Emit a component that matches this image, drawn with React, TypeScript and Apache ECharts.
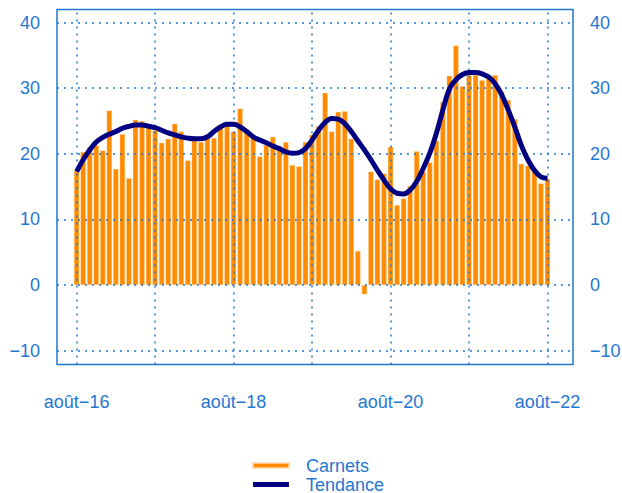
import React, { useEffect, useRef } from 'react';
import * as echarts from 'echarts';

// month index 0 = août-16 ... 72 = août-22
const xTickIndex = [0, 24, 48, 72];
const xTickLabels = ['août\u221216', 'août\u221218', 'août\u221220', 'août\u221222'];
const yearLines = [0, 12, 24, 36, 48, 60, 72];
const yTicks = [-10, 0, 10, 20, 30, 40];

const carnets = [
  17.4, 20.3, 21.0, 21.3, 20.5, 26.6, 17.7, 23.0, 16.3, 25.2, 25.0, 24.0,
  23.6, 21.7, 22.3, 24.6, 23.4, 19.0, 22.7, 21.8, 22.4, 22.4, 24.2, 24.8,
  23.4, 26.9, 23.2, 22.5, 19.6, 21.3, 22.6, 21.1, 21.8, 18.3, 18.1, 21.8,
  22.9, 24.2, 29.3, 23.4, 26.4, 26.5, 22.3, 5.2, -1.4, 17.3, 16.1, 17.0,
  21.1, 12.2, 13.2, 15.1, 20.4, 17.3, 18.7, 22.0, 27.9, 31.9, 36.5, 30.3,
  32.0, 32.0, 31.2, 31.5, 32.0, 29.5, 28.2, 25.3, 18.5, 18.2, 17.5, 15.5,
  16.2,
];

const tendance = [
  17.3, 19.1, 20.6, 21.8, 22.5, 23.0, 23.4, 23.9, 24.2, 24.4, 24.4, 24.2,
  24.0, 23.6, 23.2, 22.9, 22.6, 22.4, 22.3, 22.3, 22.6, 23.4, 24.1, 24.5,
  24.5, 24.1, 23.4, 22.6, 22.1, 21.7, 21.2, 20.8, 20.3, 20.1, 20.2, 20.8,
  22.1, 23.6, 24.8, 25.4, 25.3, 24.6, 23.4, 22.0, 20.6, 19.1, 17.5, 16.0,
  14.7, 14.0, 13.9, 14.5, 15.8, 17.8, 20.1, 23.1, 26.7, 29.9, 31.3, 32.1,
  32.4, 32.4, 32.2, 31.7, 30.7, 29.0, 26.7, 24.1, 21.3, 19.1, 17.5, 16.5,
  16.3,
];

const BLUE = '#1f78d1';
const ORANGE = '#FF8C00';
const NAVY = '#000080';
const FONT = '"Liberation Sans", Arial, Helvetica, sans-serif';

export default function App() {
  const ref = useRef<HTMLDivElement>(null);
  useEffect(() => {
    if (!ref.current) return;
    const chart = echarts.init(ref.current, null, { renderer: 'svg' });
    const yLabel = (v: number) => (v < 0 ? '\u2212' + Math.abs(v) : String(v));
    const yAxisBase = (position: 'left' | 'right') => ({
      type: 'value',
      position,
      min: -12.1,
      max: 42,
      axisLine: { show: false },
      axisTick: { show: false },
      splitLine: { show: false },
      axisLabel: {
        customValues: yTicks,
        formatter: yLabel,
        color: BLUE,
        fontSize: 18,
        fontFamily: FONT,
        margin: 17,
      },
    });
    chart.setOption({
      animation: false,
      textStyle: { fontFamily: FONT },
      grid: {
        left: 57,
        right: 49,
        top: 9.5,
        bottom: 128.5,
        show: true,
        borderColor: BLUE,
        borderWidth: 1.5,
        backgroundColor: 'transparent',
        outerBoundsMode: 'none',
      },
      xAxis: {
        type: 'value',
        min: -3,
        max: 75.9,
        axisLine: { show: false },
        axisTick: { show: false },
        splitLine: { show: false },
        axisLabel: {
          customValues: xTickIndex,
          formatter: (v: number) => {
            const k = xTickIndex.indexOf(Math.round(v));
            return k >= 0 ? xTickLabels[k] : '';
          },
          color: BLUE,
          fontSize: 18,
          fontFamily: FONT,
          margin: 28,
        },
      },
      yAxis: [yAxisBase('left'), yAxisBase('right')],
      legend: {
        orient: 'vertical',
        left: 252,
        top: 456,
        height: 60,
        padding: 0,
        itemGap: 0,
        itemWidth: 36,
        itemHeight: 5,
        icon: 'rect',
        textStyle: {
          color: BLUE,
          fontSize: 18,
          fontFamily: FONT,
          lineHeight: 19,
          padding: [0, 0, 0, 12],
        },
        data: ['Carnets', 'Tendance'],
      },
      series: [
        {
          name: 'Carnets',
          type: 'bar',
          data: carnets.map((v, i) => [i, v]),
          barWidth: 5.4,
          itemStyle: { color: ORANGE, borderColor: 'rgba(255,220,180,0.7)', borderWidth: 0.5 },
          z: 2,
          markLine: {
            silent: true,
            symbol: 'none',
            label: { show: false },
            lineStyle: { color: BLUE, type: [2, 5], width: 1.5 },
            emphasis: { disabled: true },
            data: [
              ...yearLines.map((v) => ({ xAxis: v })),
              ...yTicks.map((v) => ({ yAxis: v })),
            ],
          },
        },
        {
          name: 'Tendance',
          type: 'line',
          data: tendance.map((v, i) => [i, v]),
          smooth: 0.4,
          symbol: 'none',
          itemStyle: { color: NAVY },
          lineStyle: { color: NAVY, width: 5 },
          z: 10,
        },
      ],
    });
    return () => chart.dispose();
  }, []);
  return (
    <div
      ref={ref}
      style={{ position: 'fixed', left: 0, top: 0, width: 622, height: 493, background: '#fff' }}
    />
  );
}
